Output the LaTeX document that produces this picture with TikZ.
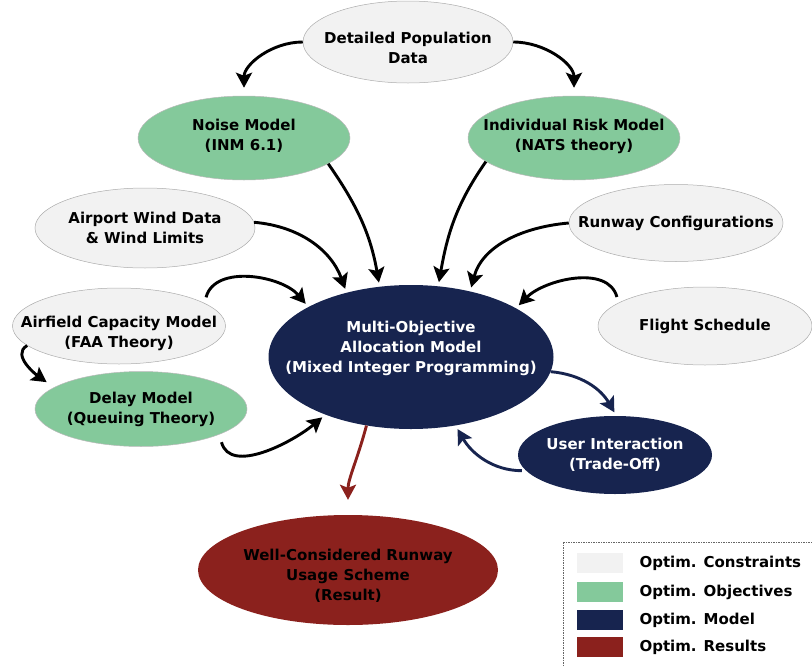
\documentclass[tikz,border=0pt]{standalone}
\usepackage{fontspec}
\setmainfont{DejaVu Sans}
\usetikzlibrary{arrows.meta,shapes.geometric}
\definecolor{consgray}{HTML}{F2F2F2}
\definecolor{objgreen}{HTML}{84C99B}
\definecolor{modnavy}{HTML}{17244F}
\definecolor{resred}{HTML}{8B211D}

\begin{document}
\begin{tikzpicture}[x=1pt,y=1pt,font=\fontsize{15}{20}\selectfont\bfseries,
  e/.style={ellipse,inner sep=0pt},
  lbl/.style={align=center,inner sep=0pt},
  cons/.style={e,draw=gray!65,line width=0.5pt,fill=consgray},
  obj/.style={e,draw=gray!55,line width=0.5pt,fill=objgreen},
  mod/.style={e,fill=modnavy},
  res/.style={e,fill=resred},
  swatch/.style={minimum width=46pt,minimum height=20pt,inner sep=0pt},
  arr/.style={line width=2.9pt,-{Stealth[length=15pt,width=16pt,inset=3pt]},shorten >=4pt},
  navyarr/.style={arr,draw=modnavy},
  redarr/.style={arr,draw=resred}]
\useasboundingbox (0,0) rectangle (812,-667);
\node[cons,minimum width=210pt,minimum height=82pt,label={[lbl,yshift=-6pt]center:Detailed Population\\Data}] (pop) at (408,-42) {};
\node[obj,minimum width=212pt,minimum height=84pt,label={[lbl,yshift=2pt]center:Noise Model\\(INM 6.1)}] (noise) at (244,-138) {};
\node[obj,minimum width=212pt,minimum height=84pt,label={[lbl,yshift=2pt]center:Individual Risk Model\\(NATS theory)}] (risk) at (574,-138) {};
\node[cons,minimum width=220pt,minimum height=80pt,label={[lbl]center:Airport Wind Data\\\& Wind Limits}] (wind) at (145,-228) {};
\node[cons,minimum width=214pt,minimum height=77pt,label={[lbl]center:Runway Configurations}] (runway) at (676,-223) {};
\node[cons,minimum width=213pt,minimum height=76pt,label={[lbl,yshift=-7pt]center:Airfield Capacity Model\\(FAA Theory)}] (capacity) at (119,-326) {};
\node[cons,minimum width=214pt,minimum height=78pt,label={[lbl]center:Flight Schedule}] (flight) at (705,-326) {};
\node[obj,minimum width=212pt,minimum height=75pt,label={[lbl]center:Delay Model\\(Queuing Theory)}] (delay) at (141,-409) {};
\node[mod,minimum width=285pt,minimum height=144pt,label={[lbl,text=white,yshift=9pt]center:Multi-Objective\\Allocation Model\\(Mixed Integer Programming)}] (alloc) at (411,-357) {};
\node[mod,minimum width=194pt,minimum height=78pt,label={[lbl,text=white]center:User Interaction\\(Trade-Off)}] (user) at (615,-455) {};
\node[res,minimum width=300pt,minimum height=110pt,label={[lbl,yshift=-6pt]center:Well-Considered Runway\\Usage Scheme\\(Result)}] (result) at (348,-570) {};
\draw[arr,shorten >=8pt] (pop.west) to[out=180,in=90] (noise.north);
\draw[arr,shorten >=8pt] (pop.east) to[out=0,in=90] (risk.north);
\draw[arr] (noise.-17) to[out=-55,in=100] (alloc.114);
\draw[arr] (risk.-165) to[out=-125,in=80] (alloc.69);
\draw[arr] (wind.3) to[out=-5,in=110] (alloc.135);
\draw[arr] (runway.west) to[out=185,in=75] (alloc.48);
\draw[arr,shorten <=6pt] (capacity.15) to[out=75,in=130] (alloc.154);
\draw[arr,shorten <=6pt] (flight.165) to[out=105,in=45] (alloc.25);
\draw[arr,shorten >=9pt] (capacity.192) to[out=210,in=145] (delay.166);
\draw[arr,shorten <=8pt] (delay.-18) to[out=-75,in=-140] (alloc.-146);
\draw[navyarr] (alloc.-6) to[out=-5,in=120] (user.88);
\draw[navyarr,shorten <=4pt] (user.190) to[out=180,in=-60] (alloc.-57);
\draw[redarr,shorten >=15pt] (alloc.-123) to[out=-105,in=90] (result.north);
\draw[gray!80!black,line width=0.8pt,dash pattern=on 1.5pt off 1pt] (563,-542) rectangle (816,-671);
\node[swatch,fill=consgray] (lcons) at (600,-563) {};
\node[swatch,fill=objgreen] (lobj) at (600,-592) {};
\node[swatch,fill=modnavy] (lmod) at (600,-620) {};
\node[swatch,fill=resred] (lres) at (600,-647) {};
\node[anchor=west] (tcons) at (636,-563) {Optim. Constraints};
\node[anchor=west] (tobj) at (636,-592) {Optim. Objectives};
\node[anchor=west] (tmod) at (636,-620) {Optim. Model};
\node[anchor=west] (tres) at (636,-647) {Optim. Results};
\end{tikzpicture}
\end{document}
